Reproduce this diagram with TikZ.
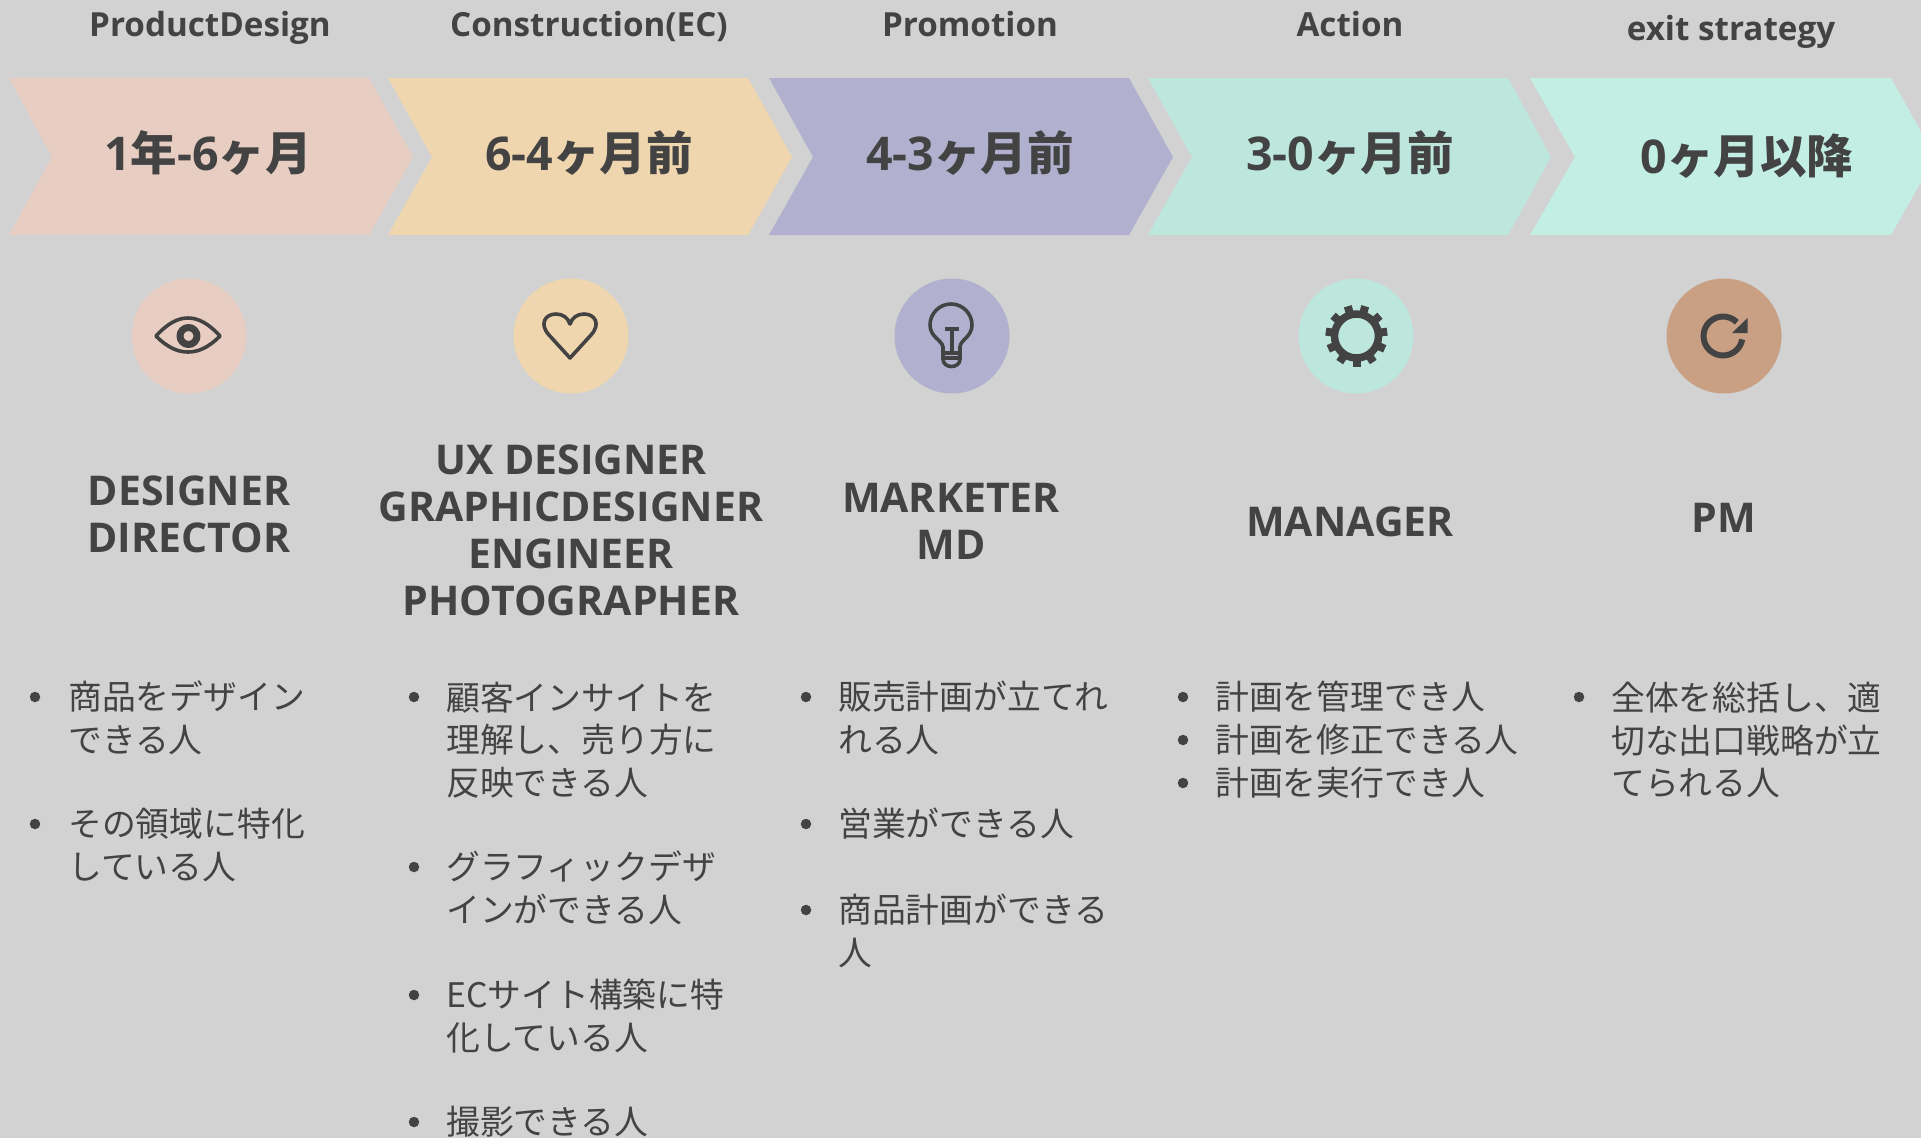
\documentclass[tikz,border=0pt]{standalone}
\usepackage{fontspec}
\setmainfont{Noto Sans CJK JP}
\newfontfamily\latinface{Open Sans}
\definecolor{pagegray}{HTML}{D2D2D2}
\definecolor{inkgray}{HTML}{434343}
\definecolor{designpink}{HTML}{E8CDC2}
\definecolor{buildsand}{HTML}{F0D6AE}
\definecolor{promolilac}{HTML}{B1B1CF}
\definecolor{actionmint}{HTML}{BDE7DD}
\definecolor{exitmint}{HTML}{C3EEE3}
\definecolor{exitclay}{HTML}{C9A084}
\newcommand{\ltn}[1]{{\latinface #1}}
\tikzset{
  phasetitle/.style={text=inkgray, anchor=base, font=\fontsize{33.2}{36}\selectfont\latinface\bfseries, inner sep=0pt},
  periodtext/.style={text=inkgray, anchor=base, font=\fontsize{46.5}{50}\selectfont\bfseries, inner sep=0pt},
  roletext/.style={text=inkgray, align=center, font=\fontsize{41}{47}\selectfont\latinface\bfseries, inner sep=0pt},
  itemtext/.style={text=inkgray, align=left, anchor=west, font=\fontsize{33.8}{42.6}\selectfont, inner sep=0pt},
  itemdot/.style={circle, fill=inkgray, inner sep=0pt, minimum size=10.5pt},
  iconback/.style={circle, inner sep=0pt, minimum size=115pt},
  iconline/.style={draw=inkgray, line width=3.6pt, line join=round, fill=none},
}
\begin{document}
\begin{tikzpicture}[x=1pt,y=-1pt]
\useasboundingbox (0,0) rectangle (1921,1138);
\fill[pagegray] (0,0) rectangle (1921,1138);
% phase titles
\node[phasetitle] (tit1) at (210,36){ProductDesign};
\node[phasetitle] (tit2) at (589,36){Construction(EC)};
\node[phasetitle] (tit3) at (970,36){Promotion};
\node[phasetitle] (tit4) at (1350,36){Action};
\node[phasetitle] (tit5) at (1731,40){exit strategy};
% chevrons
\fill[designpink] (9,78) -- (369,78) -- (413,157) -- (369,235) -- (9,235) -- (52,157) -- cycle;
\fill[buildsand] (388,78) -- (748,78) -- (792,157) -- (748,235) -- (388,235) -- (432,157) -- cycle;
\fill[promolilac] (769,78) -- (1129,78) -- (1173,157) -- (1129,235) -- (769,235) -- (813,157) -- cycle;
\fill[actionmint] (1148,78) -- (1508,78) -- (1551,157) -- (1508,235) -- (1148,235) -- (1192,157) -- cycle;
\fill[exitmint] (1530,78) -- (1891,78) -- (1935,157) -- (1891,235) -- (1530,235) -- (1575,157) -- cycle;
\node[periodtext] (per1) at (208,170){\ltn{1}年\ltn{-6}ヶ月};
\node[periodtext] (per2) at (589,170){\ltn{6-4}ヶ月前};
\node[periodtext] (per3) at (970,170){\ltn{4-3}ヶ月前};
\node[periodtext] (per4) at (1350,170){\ltn{3-0}ヶ月前};
\node[periodtext] (per5) at (1747,173.5){\ltn{0}ヶ月以降};
% icon discs
\node[iconback, fill=designpink] (ico1) at (189,336){};
\node[iconback, fill=buildsand] (ico2) at (571,336){};
\node[iconback, fill=promolilac] (ico3) at (952,336){};
\node[iconback, fill=actionmint] (ico4) at (1356,336){};
\node[iconback, fill=exitclay] (ico5) at (1724,336){};
% eye
\draw[iconline] (156,336) .. controls (168,323) and (178,318) .. (188,318) .. controls (198,318) and (208,323) .. (220,336) .. controls (208,348) and (198,352) .. (188,352) .. controls (178,352) and (168,348) .. (156,336) -- cycle;
\draw[iconline, line width=7pt] (188.5,336) circle (8.5);
% heart
\draw[iconline] (570,358) -- (549,335) .. controls (539,324) and (545,314) .. (556,314) .. controls (563,314) and (568,318) .. (570,324) .. controls (572,318) and (577,314) .. (584,314) .. controls (595,314) and (601,324) .. (591,335) -- cycle;
% bulb
\draw[iconline] (943,353) -- (943,347) .. controls (942,340) and (930,337) .. (930,325) arc (180:360:21) .. controls (972,337) and (960,340) .. (960,347) -- (960,353) -- cycle;
\draw[iconline] (945,329) -- (959,329) (952,329) -- (952,353);
\draw[iconline] (943,353) -- (943,359) .. controls (943,369) and (960,369) .. (960,359) -- (960,353) (943,358) -- (960,358);
% gear
\draw[iconline, line width=7.5pt] (1356.5,336) circle (22);
\foreach \tooth in {0,...,10}
  \draw[inkgray, line width=8pt] (1356.5,336) ++(90+\tooth*32.727:24) -- ++(90+\tooth*32.727:7);
% refresh
\draw[iconline, line width=6pt] (1723,336) ++(-45:19.5) arc (-45:-350:19.5);
\fill[inkgray] (1747.5,318) -- (1747.5,333) -- (1732,333) -- cycle;
% roles
\node[roletext] (rol1) at (189,514){DESIGNER\\DIRECTOR};
\node[roletext] (rol2) at (571,530){UX DESIGNER\\GRAPHICDESIGNER\\ENGINEER\\PHOTOGRAPHER};
\node[roletext] (rol3) at (951,521){MARKETER\\MD};
\node[roletext] (rol4) at (1350,522){MANAGER};
\node[roletext] (rol5) at (1724,518){PM};
% first list
\node[itemdot] (dot11) at (35,697){};
\node[itemtext] (itm11) at (68,718){商品をデザイン\\できる人};
\node[itemdot] (dot12) at (35,824){};
\node[itemtext] (itm12) at (68,845){その領域に特化\\している人};
% second list
\node[itemdot] (dot21) at (414,697){};
\node[itemtext] (itm21) at (446,740){顧客インサイトを\\理解し、売り方に\\反映できる人};
\node[itemdot] (dot22) at (414,867){};
\node[itemtext] (itm22) at (446,888){グラフィックデザ\\インができる人};
\node[itemdot] (dot23) at (414,995){};
\node[itemtext] (itm23) at (446,1016){ECサイト構築に特\\化している人};
\node[itemdot] (dot24) at (414,1122){};
\node[itemtext] (itm24) at (446,1122){撮影できる人};
% third list
\node[itemdot] (dot31) at (806,697){};
\node[itemtext] (itm31) at (838,718){販売計画が立てれ\\れる人};
\node[itemdot] (dot32) at (806,824){};
\node[itemtext] (itm32) at (838,824){営業ができる人};
\node[itemdot] (dot33) at (806,910){};
\node[itemtext] (itm33) at (838,931){商品計画ができる\\人};
% fourth list
\node[itemdot] (dot41) at (1183,697){};
\node[itemtext] (itm41) at (1215,697){計画を管理でき人};
\node[itemdot] (dot42) at (1183,740){};
\node[itemtext] (itm42) at (1215,740){計画を修正できる人};
\node[itemdot] (dot43) at (1183,783){};
\node[itemtext] (itm43) at (1215,783){計画を実行でき人};
% fifth list
\node[itemdot] (dot51) at (1579,697){};
\node[itemtext] (itm51) at (1611,740){全体を総括し、適\\切な出口戦略が立\\てられる人};
\end{tikzpicture}
\end{document}
